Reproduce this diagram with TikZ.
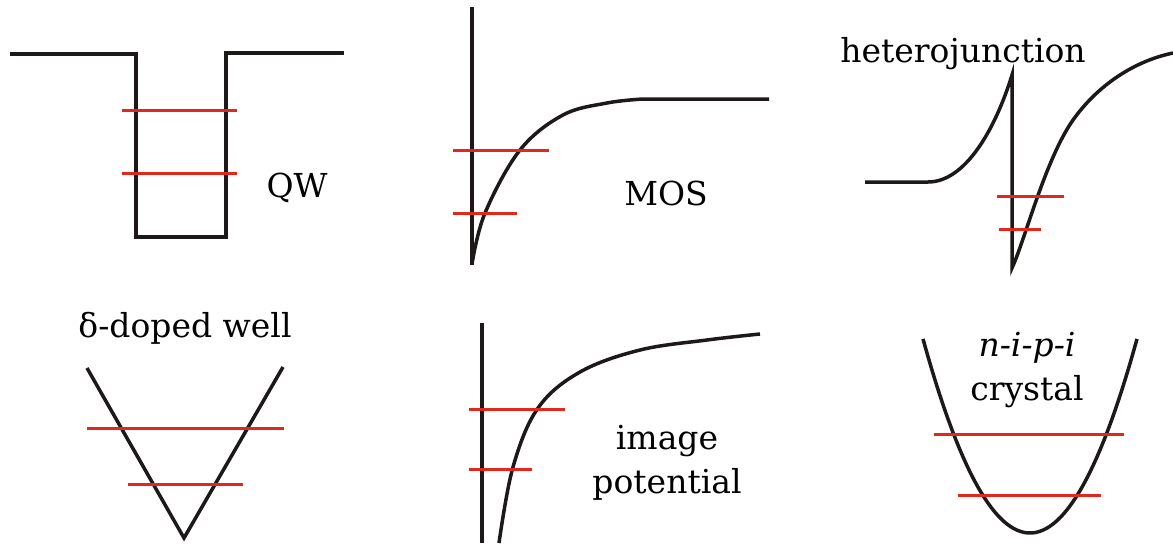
\documentclass[tikz,border=0pt]{standalone}
\usepackage{fontspec}
\setmainfont{DejaVu Serif}
\definecolor{rosso}{RGB}{226,40,28}
\definecolor{nero}{RGB}{30,25,25}
\begin{document}
\begin{tikzpicture}[x=0.5pt,y=-0.5pt,
        curva/.style={line width=1.75pt,nero,line join=miter},
        livello/.style={line width=1.5pt,rosso},
        etichetta/.style={font=\rmfamily\fontsize{16.5}{22}\selectfont,align=center,anchor=base}]
        \useasboundingbox (0,0) rectangle (1173,547);
        % pozzo quantico (QW)
        \draw[curva] (10,54) -- (136,54) -- (136,237) -- (226,237) -- (226,53) -- (344,53);
        \draw[livello] (122,110) -- (237,110);
        \draw[livello] (122,173) -- (237,173);
        \node[etichetta] (qw) at (297,197) {QW};
        % MOS
        \draw[curva] (472,7) -- (472,265);
        \draw[curva] plot[smooth,tension=0.6] coordinates {(472,264) (485,213) (520,150) (563,115) (607,103) (643,99)} -- (769,99);
        \draw[livello] (453,150) -- (549,150);
        \draw[livello] (453,213) -- (517,213);
        \node[etichetta] (mos) at (666,205) {MOS};
        % eterogiunzione
        \draw[curva] (865,182) -- (928,182) .. controls (965,182) and (995,130) .. (1012,75)
            -- (1012,268) .. controls (1025,240) and (1045,160) .. (1073,120)
            .. controls (1095,89) and (1130,62) .. (1173,53);
        \draw[livello] (997,196) -- (1064,196);
        \draw[livello] (999,229) -- (1041,229);
        \node[etichetta] (hetero) at (963,62) {heterojunction};
        % pozzo delta
        \draw[curva] (87,368) -- (184,538) -- (283,367);
        \draw[livello] (87,428) -- (284,428);
        \draw[livello] (128,484) -- (243,484);
        \node[etichetta] (delta) at (185,337) {δ-doped well};
        % potenziale immagine
        \draw[curva] (482,323) -- (482,543);
        \draw[curva] plot[smooth,tension=0.6] coordinates {(499,543) (513,467) (538,408) (580,372) (640,350) (707,340) (760,334)};
        \draw[livello] (469,409) -- (565,409);
        \draw[livello] (469,469) -- (532,469);
        \node[etichetta] (immagine) at (667,493) {image\\potential};
        % cristallo n-i-p-i
        \draw[curva] plot[domain=923:1137,samples=60] (\x,{533-0.01695*(\x-1030)^2});
        \draw[livello] (934,434) -- (1124,434);
        \draw[livello] (958,495) -- (1101,495);
        \node[etichetta] (nipi) at (1027,400) {\textit{n-i-p-i}\\crystal};
    \end{tikzpicture}
\end{document}
